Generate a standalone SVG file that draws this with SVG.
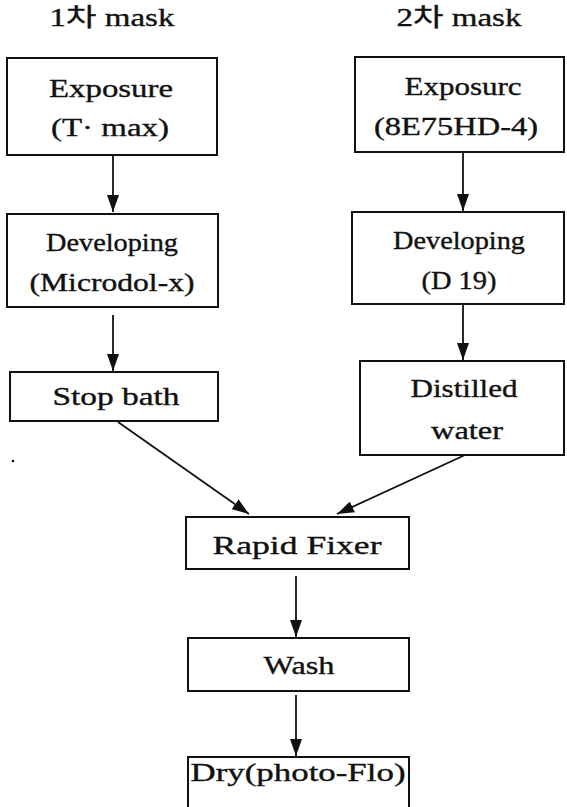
<svg xmlns="http://www.w3.org/2000/svg" width="567" height="807" viewBox="0 0 567 807">
<style>
.box{fill:#fff;stroke:#111;stroke-width:2}
.t{font-family:'Liberation Serif','Times New Roman',serif;font-size:25px;fill:#111;stroke:#111;stroke-width:0.35;text-anchor:middle}
.k{font-family:'Liberation Serif','Noto Sans CJK KR',serif}
.c{stroke:#111;stroke-width:1.8;fill:none;marker-end:url(#ah)}
</style>
<defs>
<marker id="ah" markerUnits="userSpaceOnUse" viewBox="0 -6 17 12" refX="17" refY="0" markerWidth="17" markerHeight="12" orient="auto">
<path d="M0,-6 L17,0 L0,6 z" fill="#111"/>
</marker>
</defs>
<rect width="567" height="807" fill="#fff"/>
<g id="headers">
<text class="t k" x="112" y="26" textLength="125" lengthAdjust="spacingAndGlyphs">1차 mask</text>
<text class="t k" x="459" y="26" textLength="125" lengthAdjust="spacingAndGlyphs">2차 mask</text>
</g>
<g id="exposure1">
<rect class="box" x="7" y="58" width="210" height="97"/>
<text class="t" x="111" y="97" textLength="124" lengthAdjust="spacingAndGlyphs">Exposure</text>
<text class="t" x="110" y="136" textLength="118" lengthAdjust="spacingAndGlyphs">(T· max)</text>
</g>
<g id="developing1">
<rect class="box" x="7" y="214" width="211" height="93"/>
<text class="t" x="112" y="251" textLength="132" lengthAdjust="spacingAndGlyphs">Developing</text>
<text class="t" x="112" y="291" textLength="165" lengthAdjust="spacingAndGlyphs">(Microdol-x)</text>
</g>
<g id="stopbath">
<rect class="box" x="10" y="372" width="208" height="49"/>
<text class="t" x="116" y="405" textLength="127" lengthAdjust="spacingAndGlyphs">Stop bath</text>
</g>
<g id="exposure2">
<rect class="box" x="355" y="57" width="209" height="95"/>
<text class="t" x="463" y="95" textLength="117" lengthAdjust="spacingAndGlyphs">Exposurc</text>
<text class="t" x="456" y="135" textLength="164" lengthAdjust="spacingAndGlyphs">(8E75HD-4)</text>
</g>
<g id="developing2">
<rect class="box" x="352" y="212" width="212" height="92"/>
<text class="t" x="459" y="249" textLength="132" lengthAdjust="spacingAndGlyphs">Developing</text>
<text class="t" x="459" y="289" textLength="75" lengthAdjust="spacingAndGlyphs">(D 19)</text>
</g>
<g id="distilled">
<rect class="box" x="360" y="361" width="204" height="94"/>
<text class="t" x="464" y="397" textLength="107" lengthAdjust="spacingAndGlyphs">Distilled</text>
<text class="t" x="467" y="439" textLength="72" lengthAdjust="spacingAndGlyphs">water</text>
</g>
<g id="fixer">
<rect class="box" x="186" y="517" width="223" height="52"/>
<text class="t" x="297" y="554" textLength="169" lengthAdjust="spacingAndGlyphs">Rapid Fixer</text>
</g>
<g id="wash">
<rect class="box" x="188" y="638" width="221" height="53"/>
<text class="t" x="299" y="674" textLength="71" lengthAdjust="spacingAndGlyphs">Wash</text>
</g>
<g id="dry">
<rect class="box" x="188" y="757" width="221" height="60"/>
<text class="t" x="298" y="781" textLength="215" lengthAdjust="spacingAndGlyphs">Dry(photo-Flo)</text>
</g>
<g id="connectors">
<line class="c" x1="113" y1="155" x2="113" y2="212"/>
<line class="c" x1="113" y1="315" x2="113" y2="371"/>
<line class="c" x1="463" y1="152" x2="463" y2="211"/>
<line class="c" x1="463" y1="304" x2="463" y2="360"/>
<line class="c" x1="118" y1="422" x2="249" y2="514"/>
<line class="c" x1="465" y1="455" x2="337" y2="514"/>
<line class="c" x1="296" y1="576" x2="296" y2="637"/>
<line class="c" x1="296" y1="695" x2="296" y2="756"/>
</g>
<circle cx="13" cy="461" r="1.3" fill="#111"/>
</svg>
